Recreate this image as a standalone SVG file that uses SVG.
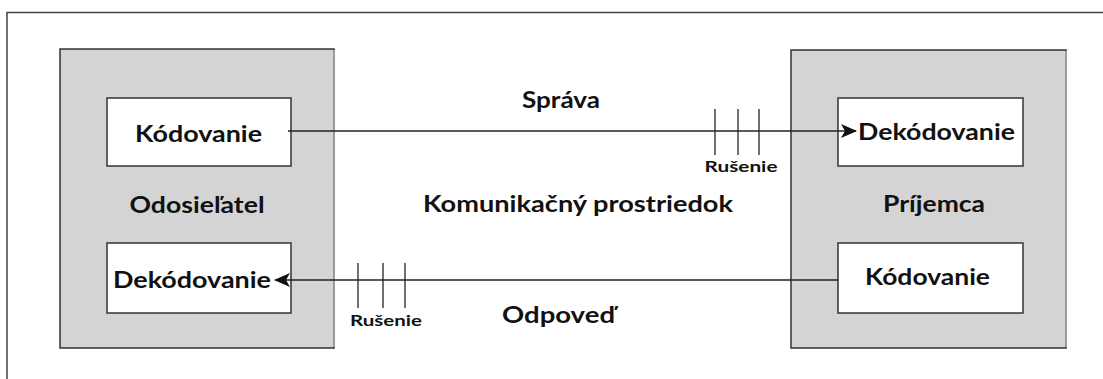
<svg xmlns="http://www.w3.org/2000/svg" width="1103" height="379" viewBox="0 0 1103 379">
  <style>
    .frame { fill: none; stroke: #444; stroke-width: 1.5; }
    .party { fill: #d4d4d4; stroke: #333; stroke-width: 1.5; }
    .shade { stroke: #9a9a9a; stroke-width: 2; }
    .box { fill: #ffffff; stroke: #333; stroke-width: 1.5; }
    .wire { stroke: #222; stroke-width: 1.3; fill: none; }
    .tick { stroke: #222; stroke-width: 1.3; }
    text { font-family: "Lato", "Open Sans", "Liberation Sans", sans-serif; font-weight: 700; fill: #111; }
    .lbl { font-size: 23px; }
    .small { font-size: 16px; }
  </style>
  <defs>
    <marker id="head" markerWidth="16" markerHeight="14" refX="15" refY="7" orient="auto" markerUnits="userSpaceOnUse">
      <path d="M0,0 L16,7 L0,14 L4,7 Z" fill="#111"/>
    </marker>
  </defs>

  <rect x="0" y="0" width="1103" height="379" fill="#ffffff"/>
  <!-- outer frame (open on the right and bottom) -->
  <path class="frame" d="M7,379 L7,12.5 L1103,12.5"/>

  <!-- sender -->
  <g id="sender">
    <rect class="party" x="60" y="49" width="274" height="299"/>
    <line class="shade" x1="334" y1="50" x2="334" y2="347"/>
    <text class="lbl" x="197" y="213" text-anchor="middle" textLength="135" lengthAdjust="spacingAndGlyphs">Odosieľatel</text>
  </g>
  <g id="sender-encode">
    <rect class="box" x="107" y="98" width="184" height="68"/>
    <text class="lbl" x="198.5" y="142" text-anchor="middle" textLength="127" lengthAdjust="spacingAndGlyphs">Kódovanie</text>
  </g>
  <g id="sender-decode">
    <rect class="box" x="107" y="243" width="184" height="70"/>
    <text class="lbl" x="192" y="288" text-anchor="middle" textLength="158" lengthAdjust="spacingAndGlyphs">Dekódovanie</text>
  </g>

  <!-- receiver -->
  <g id="receiver">
    <rect class="party" x="791" y="50" width="275" height="298"/>
    <line class="shade" x1="1066" y1="51" x2="1066" y2="347"/>
    <text class="lbl" x="934" y="212" text-anchor="middle" textLength="102" lengthAdjust="spacingAndGlyphs">Príjemca</text>
  </g>
  <g id="receiver-decode">
    <rect class="box" x="838" y="98" width="185" height="68"/>
    <text class="lbl" x="936.5" y="140" text-anchor="middle" textLength="157" lengthAdjust="spacingAndGlyphs">Dekódovanie</text>
  </g>
  <g id="receiver-encode">
    <rect class="box" x="838" y="243" width="185" height="70"/>
    <text class="lbl" x="927.5" y="285" text-anchor="middle" textLength="125" lengthAdjust="spacingAndGlyphs">Kódovanie</text>
  </g>

  <!-- channel labels -->
  <g id="channel">
    <text class="lbl" x="561" y="108" text-anchor="middle" textLength="78" lengthAdjust="spacingAndGlyphs">Správa</text>
    <text class="lbl" x="578" y="212" text-anchor="middle" textLength="310" lengthAdjust="spacingAndGlyphs">Komunikačný prostriedok</text>
    <text class="lbl" x="558.5" y="323" text-anchor="middle" textLength="113" lengthAdjust="spacingAndGlyphs">Odpoveď</text>
  </g>

  <!-- connectors with noise -->
  <g id="connectors">
    <line class="wire" x1="288" y1="131" x2="856" y2="131" marker-end="url(#head)"/>
    <line class="wire" x1="838" y1="280" x2="275" y2="280" marker-end="url(#head)"/>
    <g id="noise-top">
      <line class="tick" x1="715" y1="109" x2="715" y2="155"/>
      <line class="tick" x1="738" y1="109" x2="738" y2="155"/>
      <line class="tick" x1="759" y1="109" x2="759" y2="155"/>
      <text class="small" x="741" y="172" text-anchor="middle" textLength="73" lengthAdjust="spacingAndGlyphs">Rušenie</text>
    </g>
    <g id="noise-bottom">
      <line class="tick" x1="358" y1="263" x2="358" y2="308"/>
      <line class="tick" x1="383" y1="263" x2="383" y2="308"/>
      <line class="tick" x1="405" y1="263" x2="405" y2="308"/>
      <text class="small" x="386" y="326" text-anchor="middle" textLength="72" lengthAdjust="spacingAndGlyphs">Rušenie</text>
    </g>
  </g>
</svg>
